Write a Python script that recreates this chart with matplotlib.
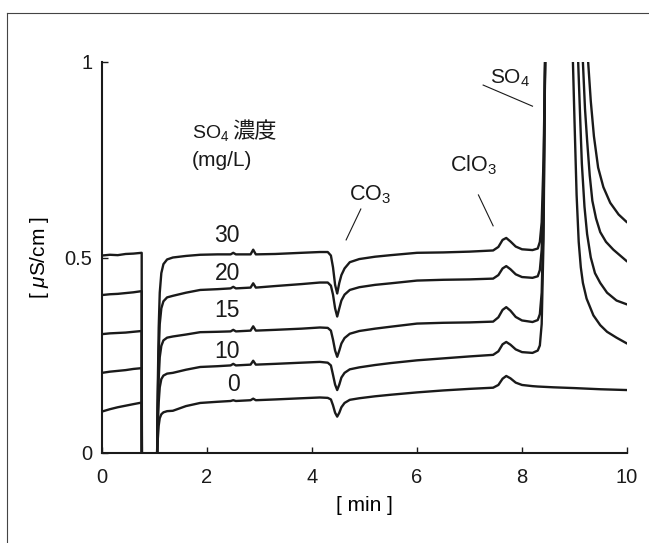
import matplotlib
matplotlib.use("Agg")
import matplotlib.pyplot as plt
from matplotlib.lines import Line2D
import numpy as np

plt.rcParams['font.family'] = ['Liberation Sans', 'DejaVu Sans', 'Noto Sans CJK JP']
plt.rcParams['mathtext.fontset'] = 'custom'
plt.rcParams['mathtext.rm'] = 'Liberation Sans'
plt.rcParams['mathtext.it'] = 'Liberation Sans:italic'

# ---- data ----
t_main = [0.0, 0.15, 0.3, 0.45, 0.6, 0.756, 0.76, 1.03, 1.05, 1.06, 1.08, 1.10, 1.13, 1.17,
          1.24, 1.35, 1.6, 1.87, 2.2, 2.45, 2.5, 2.55, 2.83, 2.88, 2.93, 3.3, 3.8, 4.15,
          4.30, 4.36, 4.40, 4.44, 4.48, 4.52, 4.56, 4.62, 4.72, 4.9, 5.2, 5.5, 6.0, 6.5,
          7.0, 7.45, 7.55, 7.63, 7.70, 7.78, 7.88, 8.0, 8.2, 8.3]

v30 = [0.505, 0.507, 0.506, 0.509, 0.510, 0.512, -0.05, -0.05, 0.0, 0.15, 0.32, 0.41, 0.46, 0.483,
       0.495, 0.500, 0.504, 0.507, 0.508, 0.508, 0.512, 0.508, 0.508, 0.520, 0.508, 0.509, 0.512, 0.514,
       0.514, 0.505, 0.475, 0.43, 0.408, 0.435, 0.455, 0.472, 0.488, 0.496, 0.502, 0.506, 0.512, 0.513,
       0.515, 0.518, 0.527, 0.545, 0.550, 0.541, 0.528, 0.521, 0.519, 0.523]
v20 = [0.404, 0.406, 0.407, 0.409, 0.411, 0.414, -0.05, -0.05, 0.0, 0.12, 0.257, 0.33, 0.37, 0.388,
       0.398, 0.402, 0.41, 0.417, 0.419, 0.421, 0.425, 0.421, 0.423, 0.434, 0.423, 0.427, 0.432, 0.436,
       0.436, 0.428, 0.405, 0.37, 0.349, 0.37, 0.39, 0.405, 0.417, 0.424, 0.43, 0.434, 0.441, 0.443,
       0.444, 0.446, 0.455, 0.472, 0.478, 0.47, 0.457, 0.45, 0.448, 0.452]
v15 = [0.304, 0.306, 0.307, 0.308, 0.310, 0.312, -0.05, -0.05, 0.0, 0.09, 0.19, 0.245, 0.274, 0.288,
       0.295, 0.298, 0.303, 0.309, 0.310, 0.311, 0.315, 0.311, 0.313, 0.324, 0.313, 0.315, 0.318, 0.321,
       0.32, 0.313, 0.29, 0.262, 0.246, 0.262, 0.28, 0.294, 0.305, 0.312, 0.318, 0.323, 0.331, 0.333,
       0.334, 0.336, 0.347, 0.366, 0.373, 0.364, 0.348, 0.339, 0.335, 0.34]
v10 = [0.205, 0.208, 0.210, 0.212, 0.215, 0.217, -0.05, -0.05, 0.0, 0.06, 0.13, 0.168, 0.189, 0.198,
       0.203, 0.205, 0.213, 0.22, 0.222, 0.224, 0.228, 0.224, 0.226, 0.236, 0.226, 0.228, 0.231, 0.233,
       0.231, 0.224, 0.2, 0.175, 0.161, 0.175, 0.193, 0.205, 0.214, 0.219, 0.225, 0.23, 0.237, 0.242,
       0.247, 0.251, 0.26, 0.278, 0.284, 0.277, 0.265, 0.258, 0.256, 0.262]
v0 = [0.106, 0.112, 0.117, 0.121, 0.125, 0.129, -0.05, -0.05, 0.0, 0.03, 0.07, 0.089, 0.099, 0.104,
      0.107, 0.108, 0.12, 0.128, 0.131, 0.133, 0.135, 0.133, 0.135, 0.139, 0.135, 0.137, 0.14, 0.142,
      0.141, 0.137, 0.122, 0.103, 0.093, 0.103, 0.117, 0.128, 0.136, 0.14, 0.145, 0.149, 0.155, 0.16,
      0.164, 0.167, 0.174, 0.19, 0.197, 0.191, 0.18, 0.174, 0.171, 0.170]

# SO4 peak (rise + decaying tail) per trace
t_end30 = [8.34, 8.375, 8.41, 8.44, 8.46, 9.20, 9.26, 9.31, 9.37, 9.45, 9.55, 9.68, 9.84, 10.0]
v_end30 = [0.54, 0.59, 0.75, 1.0, 1.15, 1.15, 1.0, 0.90, 0.81, 0.73, 0.68, 0.64, 0.61, 0.59]
t_end20 = [8.34, 8.375, 8.41, 8.44, 8.46, 9.12, 9.16, 9.20, 9.24, 9.29, 9.34, 9.41, 9.49, 9.60, 9.74, 9.87, 10.0]
v_end20 = [0.468, 0.52, 0.68, 1.0, 1.15, 1.15, 1.0, 0.88, 0.80, 0.71, 0.645, 0.60, 0.565, 0.54, 0.52, 0.505, 0.49]
t_end15 = [8.34, 8.375, 8.41, 8.44, 8.46, 9.03, 9.07, 9.11, 9.14, 9.19, 9.24, 9.31, 9.39, 9.49, 9.62, 9.80, 10.0]
v_end15 = [0.355, 0.41, 0.60, 1.0, 1.15, 1.15, 1.0, 0.85, 0.74, 0.63, 0.56, 0.50, 0.46, 0.435, 0.41, 0.39, 0.38]
t_end10 = [8.34, 8.375, 8.41, 8.44, 8.46, 8.93, 8.97, 9.00, 9.04, 9.08, 9.12, 9.16, 9.23, 9.36, 9.49, 9.62, 9.80, 10.0]
v_end10 = [0.275, 0.33, 0.545, 1.0, 1.15, 1.15, 1.0, 0.85, 0.66, 0.54, 0.475, 0.435, 0.395, 0.352, 0.327, 0.31, 0.295, 0.28]
t_end0 = [8.6, 9.0, 9.5, 10.0]
v_end0 = [0.168, 0.166, 0.163, 0.161]

conc_labels = ["30", "20", "15", "10", "0"]
label_y = [0.557, 0.46, 0.364, 0.259, 0.174]

x_ticks = [0, 2, 4, 6, 8, 10]
y_ticks = [0, 0.5, 1]
y_ticklabels = ["0", "0.5", "1"]

# ---- figure ----
W, H = 649, 543
fig = plt.figure(figsize=(W / 100, H / 100), dpi=100)
ax = fig.add_axes([102 / W, 1 - 453 / H, (627 - 102) / W, (453 - 62) / H])

col = '#1a1a1a'
traces = [(v30, t_end30, v_end30), (v20, t_end20, v_end20), (v15, t_end15, v_end15),
          (v10, t_end10, v_end10), (v0, t_end0, v_end0)]
for vm, te, ve in traces:
    ax.plot(list(t_main) + list(te), list(vm) + list(ve), color=col, lw=1.7,
            solid_joinstyle='round', solid_capstyle='round')

ax.set_xlim(0, 10)
ax.set_ylim(0, 1)
for s in ['top', 'right']:
    ax.spines[s].set_visible(False)
for s in ['left', 'bottom']:
    ax.spines[s].set_linewidth(1.5)
    ax.spines[s].set_color(col)

ax.set_xticks(x_ticks)
ax.set_yticks(y_ticks)
ax.set_yticklabels(y_ticklabels)
ax.tick_params(axis='both', direction='in', length=4.5, width=1.0, colors=col, labelsize=14.5)
ax.tick_params(axis='x', pad=11)
ax.tick_params(axis='y', pad=7)

ax.set_xlabel("[ min ]", fontsize=15, labelpad=6)
ax.set_ylabel(r"[ $\mu$S/cm ]", fontsize=15, labelpad=10)

# concentration labels
for lab, yy in zip(conc_labels, label_y):
    ax.text(2.63, yy, lab, fontsize=16.5, ha='right', va='center', color=col)

ax.text(1.709, 0.805, r"SO$_4$", fontsize=14, ha='left', va='baseline', color=col)
ax.text(2.48, 0.805, "濃度", fontsize=16, ha='left', va='baseline', color=col,
        family=['Noto Sans CJK JP'])
ax.text(1.709, 0.735, "(mg/L)", fontsize=15, ha='left', va='baseline', color=col)

# peak annotations
ax.text(5.1, 0.66, r"CO$_3$", fontsize=15.5, ha='center', va='center', color=col)
ax.plot([4.93, 4.65], [0.624, 0.545], color=col, lw=0.8)
ax.text(7.07, 0.737, r"ClO$_3$", fontsize=15.5, ha='center', va='center', color=col)
ax.plot([7.17, 7.45], [0.66, 0.581], color=col, lw=0.8)
ax.text(7.77, 0.959, r"SO$_4$", fontsize=15, ha='center', va='center', color=col)
ax.plot([7.26, 8.20], [0.941, 0.887], color=col, lw=0.8)

# outer frame (partially cut off in the reference)
fig.add_artist(Line2D([6.5 / W, 6.5 / W], [0, 1 - 12.5 / H], transform=fig.transFigure,
                      color='#444444', lw=0.8))
fig.add_artist(Line2D([6.5 / W, 1.0], [1 - 12.5 / H, 1 - 12.5 / H], transform=fig.transFigure,
                      color='#444444', lw=0.8))

fig.savefig("out.png", dpi=100)
